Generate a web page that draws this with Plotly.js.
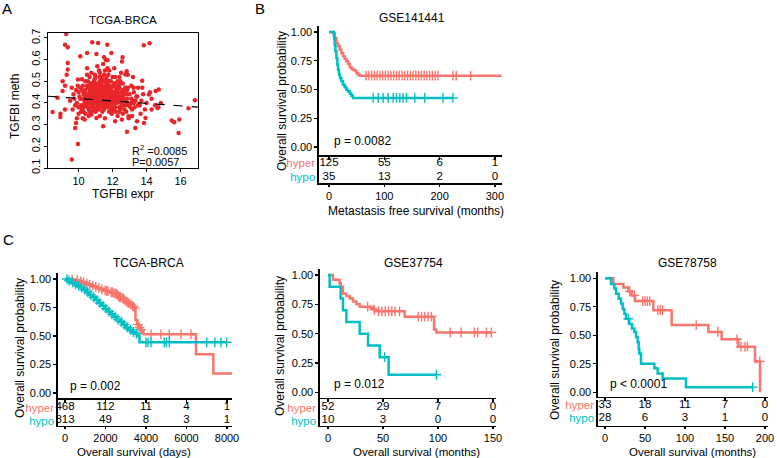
<!DOCTYPE html>
<html><head><meta charset="utf-8">
<script src="https://cdn.plot.ly/plotly-3.0.1.min.js"></script>
<style>html,body{margin:0;padding:0;background:#fff;}#chart{width:777px;height:458px;}</style>
</head><body><div id="chart"></div>
<script>
// ===== Panel A: TGFBI expr vs meth =====
const exprOut = [9.27,9.2,9.36,10.8,11.15,11.69,13.84,14.18,9.96,9.6,12.85,15.49,15.63,15.93,15.89,16.85,16.47,8.47,8.93,8.93,
  9.36,9.36,9.3,10.1,10.5,11.05,11.5,11.6,11.7,12.59,12.83,13.74,13.24,14.54,14.14,14.64,14.3,13.94,13.44,13.85,
  13.34,11.45,10.76,9.8,9.85,9.2,8.76,9.06,9.2,9.96,12.94,12.55,12.15,11.05,10.36,10.2,10.96,11.95,13.15,13.54,
  14.84,12.75,12.45,9.06,11.93,12.55,14.72];
const methOut = [0.718,0.669,0.657,0.68,0.677,0.669,0.666,0.676,0.211,0.139,0.267,0.319,0.311,0.324,0.262,0.413,0.376,0.358,0.35,0.335,
  0.585,0.554,0.53,0.616,0.631,0.626,0.611,0.6,0.597,0.611,0.547,0.503,0.47,0.455,0.439,0.377,0.37,0.331,0.316,0.308,
  0.285,0.293,0.347,0.285,0.308,0.37,0.424,0.455,0.48,0.508,0.339,0.324,0.316,0.331,0.324,0.377,0.365,0.354,0.37,0.393,
  0.4,0.531,0.5,0.5,0.631,0.592,0.462];
const exprCore = [
  10.1,10.3,10.5,10.7,10.9,11.1,11.3,11.5,11.7,11.9,  12.1,12.3,12.5,12.7,12.9,13.1,10.2,10.4,10.6,10.8,
  11.0,11.2,11.4,11.6,11.8,12.0,12.2,12.4,12.6,12.8,  9.9,10.0,10.25,10.45,10.65,10.85,11.05,11.25,11.45,11.65,
  11.85,12.05,12.25,12.45,12.65,12.85,13.05,13.25,10.15,10.35,  10.55,10.75,10.95,11.15,11.35,11.55,11.75,11.95,12.15,12.35,
  10.6,10.9,11.1,11.3,11.5,11.7,11.9,12.1,11.2,11.4,  10.05,10.5,10.8,11.0,11.3,11.6,11.8,12.2,12.4,12.7,
  9.7,9.8,9.95,10.2,10.4,10.7,11.0,11.35,11.55,11.9,  12.0,12.3,12.6,12.9,13.2,13.4,13.6,13.8,14.0,14.3,
  10.3,10.6,10.85,11.05,11.3,11.5,11.75,12.0,12.25,12.5,  10.45,10.7,10.95,11.2,11.45,11.7,11.95,12.2,10.8,11.1,
  11.4,11.6,11.85,12.1,12.35,12.6,10.9,11.25,11.55,11.8,  9.6,9.75,10.0,10.3,10.55,10.75,11.0,11.35,11.65,12.05,
  12.45,12.75,13.0,13.3,13.5,13.7,13.9,14.2,14.5,14.7,  10.1,10.4,10.65,10.9,11.15,11.4,11.65,11.9,12.15,12.4,
  11.05,11.3,11.5,11.7,11.2,11.45,10.85,11.6,11.0,11.35,  9.5,9.65,9.85,10.15,12.55,12.8,13.1,13.35,13.65,12.95,
  10.5,10.75,11.1,11.45,11.8,12.1,12.5,12.9,13.2,9.9,  10.25,10.6,11.25,11.55,11.95,12.3,12.7,13.15,13.45,13.75,
  10.7,10.95,11.15,11.35,11.55,11.75,10.6,10.85,11.05,11.25,  11.45,11.65,11.85,12.05,10.75,11.0,11.2,11.4,11.6,11.8,
  10.4,10.65,10.9,11.15,11.4,11.65,11.9,12.15,12.4,12.65,  10.35,10.55,10.8,11.1,11.3,11.55,11.8,12.0,12.25,12.5,
  10.2,10.5,10.95,11.25,11.5,11.75,12.05,12.3,12.6,12.85,  10.45,10.7,10.95,11.2,11.45,11.7,11.95,12.2,10.85,11.3,
  11.05,11.55,11.8,12.05,12.3,10.55,10.8,11.1,11.35,11.6,  11.85,12.1,12.35,12.6,12.85,13.1,10.25,10.5,10.75,11.0,
  11.25,11.5,11.75,12.0,12.25,12.5,12.75,13.0,13.25,13.5,  10.9,11.15,11.4,11.65,11.9,12.15,12.4,10.65,11.25,11.7,
  10.0,10.3,10.6,10.9,11.2,11.5,11.8,12.1,12.4,12.7];
const methCore = [
  0.42,0.45,0.39,0.47,0.41,0.44,0.49,0.40,0.46,0.43,  0.41,0.47,0.38,0.44,0.40,0.42,0.37,0.50,0.44,0.38,
  0.46,0.40,0.43,0.48,0.39,0.45,0.43,0.41,0.46,0.39,  0.40,0.45,0.48,0.42,0.36,0.49,0.37,0.52,0.45,0.41,
  0.50,0.37,0.45,0.49,0.42,0.44,0.38,0.45,0.39,0.41,  0.47,0.43,0.51,0.39,0.46,0.44,0.53,0.47,0.38,0.43,
  0.40,0.44,0.48,0.42,0.50,0.38,0.44,0.49,0.55,0.36,  0.43,0.53,0.41,0.36,0.45,0.47,0.40,0.36,0.52,0.41,
  0.44,0.39,0.48,0.51,0.35,0.46,0.42,0.39,0.55,0.37,  0.52,0.44,0.35,0.47,0.41,0.43,0.39,0.44,0.40,0.42,
  0.44,0.42,0.46,0.43,0.41,0.43,0.45,0.42,0.40,0.45,  0.39,0.49,0.43,0.47,0.44,0.42,0.41,0.46,0.45,0.41,
  0.38,0.45,0.43,0.44,0.48,0.43,0.37,0.44,0.42,0.48,  0.47,0.42,0.35,0.38,0.50,0.36,0.52,0.48,0.39,0.43,
  0.37,0.47,0.44,0.38,0.47,0.41,0.37,0.45,0.39,0.38,  0.47,0.46,0.42,0.40,0.45,0.47,0.44,0.39,0.49,0.38,
  0.44,0.46,0.47,0.43,0.43,0.41,0.44,0.51,0.49,0.52,  0.41,0.37,0.46,0.36,0.39,0.36,0.48,0.41,0.35,0.33,
  0.56,0.54,0.57,0.58,0.55,0.56,0.54,0.53,0.52,0.33,  0.33,0.34,0.34,0.33,0.35,0.34,0.37,0.34,0.43,0.47,
  0.45,0.47,0.42,0.44,0.46,0.40,0.43,0.42,0.45,0.47,  0.48,0.44,0.46,0.45,0.41,0.40,0.49,0.45,0.42,0.43,
  0.43,0.45,0.48,0.46,0.50,0.49,0.47,0.41,0.43,0.45,  0.40,0.38,0.39,0.38,0.40,0.39,0.38,0.40,0.42,0.42,
  0.46,0.48,0.53,0.50,0.53,0.50,0.48,0.50,0.49,0.46,  0.44,0.40,0.45,0.45,0.39,0.47,0.44,0.44,0.48,0.43,
  0.41,0.41,0.42,0.48,0.46,0.41,0.46,0.46,0.48,0.40,  0.45,0.40,0.41,0.44,0.42,0.40,0.42,0.43,0.48,0.47,
  0.42,0.45,0.46,0.43,0.47,0.40,0.45,0.39,0.40,0.39,  0.50,0.48,0.51,0.52,0.50,0.52,0.47,0.52,0.54,0.56,
  0.38,0.36,0.37,0.38,0.37,0.37,0.36,0.38,0.36,0.39];
const regX = [8.2, 17.03];
const regY = [0.431, 0.381];

// ===== Panel B: GSE141441 (months) =====
const bHyperT = [0,7.2,10.3,13.3,16.3,19.3,22.3,25.3,28.3,31.3,34.4,37.4,40.4,43.4,46.4,49.4,52.4,55.4,312];
const bHyperS = [1,0.99,0.948,0.904,0.875,0.846,0.817,0.788,0.768,0.745,0.722,0.696,0.681,0.672,0.664,0.643,0.629,0.62,0.62];
const bHypoT = [0,9.0,10.2,11.5,13.3,15.1,16.3,18.1,19.9,22.3,25.3,28.3,31.3,34.4,37.4,40.4,43.4,224];
const bHypoS = [1,0.948,0.89,0.832,0.774,0.716,0.672,0.629,0.60,0.571,0.542,0.519,0.498,0.484,0.464,0.446,0.426,0.426];
const bHyperCensT = [67,72,77,82,87,92,97,102,107,112,117,122,127,132,137,142,147,152,157,162,167,172,177,182,187,192,197,224,230,256];
const bHyperCensS = [0.62,0.62,0.62,0.62,0.62,0.62,0.62,0.62,0.62,0.62,0.62,0.62,0.62,0.62,0.62,0.62,0.62,0.62,0.62,0.62,0.62,0.62,0.62,0.62,0.62,0.62,0.62,0.62,0.62,0.62];
const bHypoCensT = [80,89,98,107,116,122,128,134,140,155,173,206,224];
const bHypoCensS = [0.426,0.426,0.426,0.426,0.426,0.426,0.426,0.426,0.426,0.426,0.426,0.426,0.426];
const bRiskT = [0,100,200,300];
const bRiskHyper = [125,55,6,1];
const bRiskHypo = [35,13,2,0];

// ===== Panel C1: TCGA-BRCA (days) =====
const c1HyperT = [0,300,500,700,850,1000,1150,1300,1450,1600,1750,1900,2050,2200,2350,2500,2600,2700,2800,2900,3000,3100,3200,3300,3400,3480,3560,3640,3720,3800,3880,6470,7325,8250];
const c1HyperS = [1.0,0.995,0.99,0.98,0.97,0.96,0.95,0.94,0.93,0.92,0.91,0.90,0.895,0.885,0.875,0.865,0.85,0.84,0.83,0.815,0.80,0.79,0.775,0.76,0.745,0.64,0.60,0.575,0.555,0.535,0.515,0.34,0.17,0.17];
const c1HypoT = [0,150,300,450,600,750,900,1050,1200,1350,1500,1650,1800,1950,2100,2250,2400,2550,2700,2850,3000,3150,3300,3450,3600,3680,7985];
const c1HypoS = [1.0,0.985,0.97,0.955,0.94,0.925,0.905,0.885,0.86,0.84,0.815,0.79,0.765,0.74,0.715,0.69,0.67,0.645,0.625,0.60,0.575,0.555,0.535,0.52,0.50,0.445,0.445];
const c1HyperCensT = [350,600,780,920,1080,1220,1380,1520,1680,1820,1980,2120,2280,2420,2550,2650,2750,2850,2950,3050,3150,3250,3350,3440,3600,3680,3760,4250,4740,5150,5730,6220,2060,2340,2480,2580,2700,2880,3120,3380];
const c1HyperCensS = [0.995,0.99,0.98,0.97,0.96,0.95,0.94,0.93,0.92,0.91,0.90,0.895,0.885,0.875,0.865,0.85,0.84,0.83,0.815,0.80,0.79,0.775,0.76,0.745,0.60,0.575,0.555,0.515,0.515,0.515,0.515,0.515,0.895,0.885,0.875,0.865,0.84,0.83,0.79,0.76];
const c1HypoCensT = [100,200,380,520,680,820,980,1120,1280,1420,1580,1720,1880,2020,2180,2320,2480,2620,2780,2920,3080,3230,3380,3520,4000,4100,4250,4900,5000,5150,7000,7400,7700,7985];
const c1HypoCensS = [1.0,0.985,0.97,0.955,0.94,0.925,0.905,0.885,0.86,0.84,0.815,0.79,0.765,0.74,0.715,0.69,0.67,0.645,0.625,0.60,0.575,0.555,0.535,0.52,0.445,0.445,0.445,0.445,0.445,0.445,0.445,0.445,0.445,0.445];
const c1RiskT = [0,2000,4000,6000,8000];
const c1RiskHyper = [468,112,11,4,1];
const c1RiskHypo = [313,49,8,3,1];

// ===== Panel C2: GSE37754 (months) =====
const c2HyperT = [0,4.5,10.6,11.5,13.6,16.7,19.7,22.7,25.8,28.8,39.4,40.9,43.9,69.7,96.4,98.5,148.5];
const c2HyperS = [1.0,0.96,0.93,0.90,0.84,0.82,0.80,0.775,0.75,0.73,0.72,0.705,0.69,0.645,0.535,0.51,0.51];
const c2HypoT = [0,1.5,11.5,13.6,16.7,28.8,36.4,47,55.1,98.5];
const c2HypoS = [1.0,0.9,0.8,0.7,0.6,0.5,0.4,0.3,0.15,0.15];
const c2HyperCensT = [36,42,46,49,52,55,58,61,65,82,85,88,91,94,111,121,133,136,144,148.5];
const c2HyperCensS = [0.73,0.705,0.69,0.69,0.69,0.69,0.69,0.69,0.69,0.645,0.645,0.645,0.645,0.645,0.51,0.51,0.51,0.51,0.51,0.51];
const c2HypoCensT = [51.5,98.5];
const c2HypoCensS = [0.3,0.15];
const c2RiskT = [0,50,100,150];
const c2RiskHyper = [52,29,7,0];
const c2RiskHypo = [10,3,0,0];

// ===== Panel C3: GSE78758 (months) =====
const c3HyperT = [0,10.4,23,29.2,33.3,37.5,60.4,83.3,129.2,145.8,166.7,187.5,193.75];
const c3HyperS = [1.0,0.95,0.92,0.885,0.85,0.80,0.72,0.59,0.53,0.465,0.40,0.27,0.0];
const c3HypoT = [0,7.5,11.7,13.75,17.1,20,22.1,24.2,26.25,30.4,33.75,36.7,38.75,40.8,42.1,42.9,45,61.7,65.8,72,101.25,184.6];
const c3HypoS = [1.0,0.95,0.91,0.865,0.82,0.78,0.73,0.69,0.645,0.60,0.56,0.53,0.485,0.44,0.38,0.34,0.25,0.21,0.165,0.12,0.045,0.045];
const c3HyperCensT = [31,36.7,47,50,53,56,66,69,72,114,141,165,170,175,178,193.5];
const c3HyperCensS = [0.885,0.85,0.80,0.80,0.80,0.80,0.72,0.72,0.72,0.59,0.53,0.465,0.40,0.40,0.40,0.27];
const c3HypoCensT = [29,184.6];
const c3HypoCensS = [0.645,0.045];
const c3RiskT = [0,50,100,150,200];
const c3RiskHyper = [33,18,11,7,0];
const c3RiskHypo = [28,6,3,1,0];

const groupLabels = ['hyper','hypo'];
const survTicks = [0,0.25,0.5,0.75,1];
const survTickText = ['0.00','0.25','0.50','0.75','1.00'];

// ===== styling / helpers =====
const W = 777, H = 458;
const RED = '#F8766D', CYAN = '#00BFC4', DOT = '#E8262A';
const FONT = 'Liberation Sans, Arial, sans-serif';
const px = v => v / W;
const py = v => 1 - v / H;

const traces = [];
traces.push({type:'scatter', mode:'markers', x: exprOut.concat(exprCore), y: methOut.concat(methCore),
  xaxis:'x', yaxis:'y', marker:{color:DOT, size:4.5}, hoverinfo:'skip'});
traces.push({type:'scatter', mode:'lines', x: regX, y: regY, xaxis:'x', yaxis:'y',
  line:{color:'#000', width:1.2, dash:'dash'}, hoverinfo:'skip'});

function km(n, hT, hS, hCT, hCS, oT, oS, oCT, oCS) {
  const xa = 'x' + n, ya = 'y' + n;
  [[hT,hS,hCT,hCS,RED],[oT,oS,oCT,oCS,CYAN]].forEach(([t,s,ct,cs,c]) => {
    traces.push({type:'scatter', mode:'lines', x:t, y:s, xaxis:xa, yaxis:ya,
      line:{color:c, width:2.5, shape:'hv'}, hoverinfo:'skip', cliponaxis:false});
    traces.push({type:'scatter', mode:'markers', x:ct, y:cs, xaxis:xa, yaxis:ya,
      marker:{symbol:'cross-thin', size:7, color:c, line:{color:c, width:1.4}}, hoverinfo:'skip', cliponaxis:false});
  });
}
function risk(n, t, hyper, hypo) {
  const xa = 'x' + n, ya = 'y' + n;
  traces.push({type:'scatter', mode:'text', x:t, y:t.map(() => 2), text:hyper.map(String), xaxis:xa, yaxis:ya,
    textfont:{size:11.5, color:'#000', family:FONT}, hoverinfo:'skip', cliponaxis:false});
  traces.push({type:'scatter', mode:'text', x:t, y:t.map(() => 1), text:hypo.map(String), xaxis:xa, yaxis:ya,
    textfont:{size:11.5, color:'#000', family:FONT}, hoverinfo:'skip', cliponaxis:false});
}
km(2, bHyperT,bHyperS,bHyperCensT,bHyperCensS, bHypoT,bHypoS,bHypoCensT,bHypoCensS);
risk(3, bRiskT, bRiskHyper, bRiskHypo);
km(4, c1HyperT,c1HyperS,c1HyperCensT,c1HyperCensS, c1HypoT,c1HypoS,c1HypoCensT,c1HypoCensS);
risk(5, c1RiskT, c1RiskHyper, c1RiskHypo);
km(6, c2HyperT,c2HyperS,c2HyperCensT,c2HyperCensS, c2HypoT,c2HypoS,c2HypoCensT,c2HypoCensS);
risk(7, c2RiskT, c2RiskHyper, c2RiskHypo);
km(8, c3HyperT,c3HyperS,c3HyperCensT,c3HyperCensS, c3HypoT,c3HypoS,c3HypoCensT,c3HypoCensS);
risk(9, c3RiskT, c3RiskHyper, c3RiskHypo);

const base = {showgrid:false, zeroline:false, showline:true, linecolor:'#000', fixedrange:true};
function kmX(n, dom, rng, tv) {
  return Object.assign({}, base, {domain:[px(dom[0]),px(dom[1])], range:rng, anchor:'y'+n,
    linewidth:1.6, ticks:'outside', ticklen:3, tickwidth:1.2, tickcolor:'#000', tickvals:tv, showticklabels:false});
}
function kmY(n, dom, rng) {
  return Object.assign({}, base, {domain:[py(dom[1]),py(dom[0])], range:rng, anchor:'x'+n,
    linewidth:1.6, ticks:'outside', ticklen:3, tickwidth:1.2, tickcolor:'#000',
    tickvals:survTicks, ticktext:survTickText, tickfont:{size:11, color:'#000'}});
}
function tabX(n, dom, rng, tv) {
  return Object.assign({}, base, {domain:[px(dom[0]),px(dom[1])], range:rng, anchor:'y'+n,
    linewidth:1.6, ticks:'outside', ticklen:2, tickwidth:1.2, tickcolor:'#000', tickvals:tv,
    tickfont:{size:11, color:'#000'}});
}
function tabY(n, dom, rng) {
  return Object.assign({}, base, {domain:[py(dom[1]),py(dom[0])], range:rng, anchor:'x'+n,
    linewidth:1.6, ticks:'', tickvals:[2,1],
    ticktext:['<span style="color:' + RED + '">' + groupLabels[0] + '</span>',
              '<span style="color:' + CYAN + '">' + groupLabels[1] + '</span>'],
    tickfont:{size:11.5}});
}

function ann(text, x, y, opt) {
  return Object.assign({text, x:px(x), y:py(y), xref:'paper', yref:'paper', showarrow:false,
    xanchor:'center', yanchor:'middle', font:{size:12, color:'#000', family:FONT}}, opt || {});
}
function pval(text, n, x, y) {
  return {text, x, y, xref:'x'+n, yref:'y'+n, showarrow:false, xanchor:'left', yanchor:'middle',
    font:{size:12, color:'#000', family:FONT}};
}
const xTitleFont = {size:11.5, color:'#000', family:FONT};

const layout = {
  width: W, height: H, margin:{l:0, r:0, t:0, b:0}, paper_bgcolor:'#fff', plot_bgcolor:'rgba(0,0,0,0)',
  showlegend:false, font:{family:FONT, color:'#000', size:11},
  xaxis: Object.assign({}, base, {domain:[px(48),px(198)], range:[8.2,17.03], anchor:'y', mirror:true, linewidth:1,
    ticks:'outside', ticklen:3, tickwidth:1, tickcolor:'#000', tickvals:[10,12,14,16], tickfont:{size:11}}),
  yaxis: Object.assign({}, base, {domain:[py(168),py(33)], range:[0.1,0.723], anchor:'x', mirror:true, linewidth:1,
    ticks:'outside', ticklen:3, tickwidth:1, tickcolor:'#000', tickvals:[0.1,0.2,0.3,0.4,0.5,0.6,0.7],
    tickangle:-90, tickfont:{size:11}}),
  xaxis2: kmX(2, [319,502], [-18.1,312.8], bRiskT),
  yaxis2: kmY(2, [26,155], [-0.07,1.052]),
  xaxis3: tabX(3, [319,502], [-18.1,312.8], bRiskT),
  yaxis3: tabY(3, [155,183], [0.571,2.571]),
  xaxis4: kmX(4, [58,232], [-345.7,8247], c1RiskT),
  yaxis4: kmY(4, [273,398], [-0.044,1.053]),
  xaxis5: tabX(5, [58,232], [-345.7,8247], c1RiskT),
  yaxis5: tabY(5, [400,425.5], [0.615,2.577]),
  xaxis6: kmX(6, [320,496], [-7.27,152.7], c2RiskT),
  yaxis6: kmY(6, [269,397.5], [-0.044,1.051]),
  xaxis7: tabX(7, [320,496], [-7.27,152.7], c2RiskT),
  yaxis7: tabY(7, [399,425.5], [0.615,2.654]),
  xaxis8: kmX(8, [598,768], [-8.75,203.75], c3RiskT),
  yaxis8: kmY(8, [271.7,396.5], [-0.037,1.058]),
  xaxis9: tabX(9, [598,768], [-8.75,203.75], c3RiskT),
  yaxis9: tabY(9, [400,425.5], [0.459,2.376]),
  annotations: [
    ann('A', 7, 8, {font:{size:15, color:'#000', family:FONT}}),
    ann('B', 260, 8, {font:{size:15, color:'#000', family:FONT}}),
    ann('C', 8, 239, {font:{size:15, color:'#000', family:FONT}}),
    ann('TCGA-BRCA', 123, 20, {font:{size:11.5, color:'#000', family:FONT}}),
    ann('TGFBI expr', 123, 194),
    ann('TGFBI meth', 15, 107, {textangle:-90}),
    ann('R<sup>2</sup> =0.0085', 130, 150, {xanchor:'left', font:{size:11, color:'#000', family:FONT}}),
    ann('P=0.0057', 130, 162, {xanchor:'left', font:{size:11, color:'#000', family:FONT}}),
    ann('GSE141441', 412, 18),
    ann('Overall survival probability', 282, 101, {textangle:-90}),
    ann('Metastasis free survival (months)', 416, 211),
    ann('TCGA-BRCA', 148, 263),
    ann('Overall survival probability', 20, 348, {textangle:-90}),
    ann('Overall survival (days)', 134, 451.5, {font:xTitleFont}),
    ann('GSE37754', 413, 263),
    ann('Overall survival probability', 280, 346, {textangle:-90}),
    ann('Overall survival (months)', 416, 451.5, {font:xTitleFont}),
    ann('GSE78758', 687, 263),
    ann('Overall survival probability', 555, 350, {textangle:-90}),
    ann('Overall survival (months)', 692, 451.5, {font:xTitleFont}),
    pval('p = 0.0082', 2, 4.9, 0.05),
    pval('p = 0.002', 4, 165, 0.064),
    pval('p = 0.012', 6, 3.4, 0.068),
    pval('p < 0.0001', 8, 4.2, 0.07)
  ]
};

Plotly.newPlot('chart', traces, layout, {staticPlot:true, displayModeBar:false});
</script>
</body></html>
